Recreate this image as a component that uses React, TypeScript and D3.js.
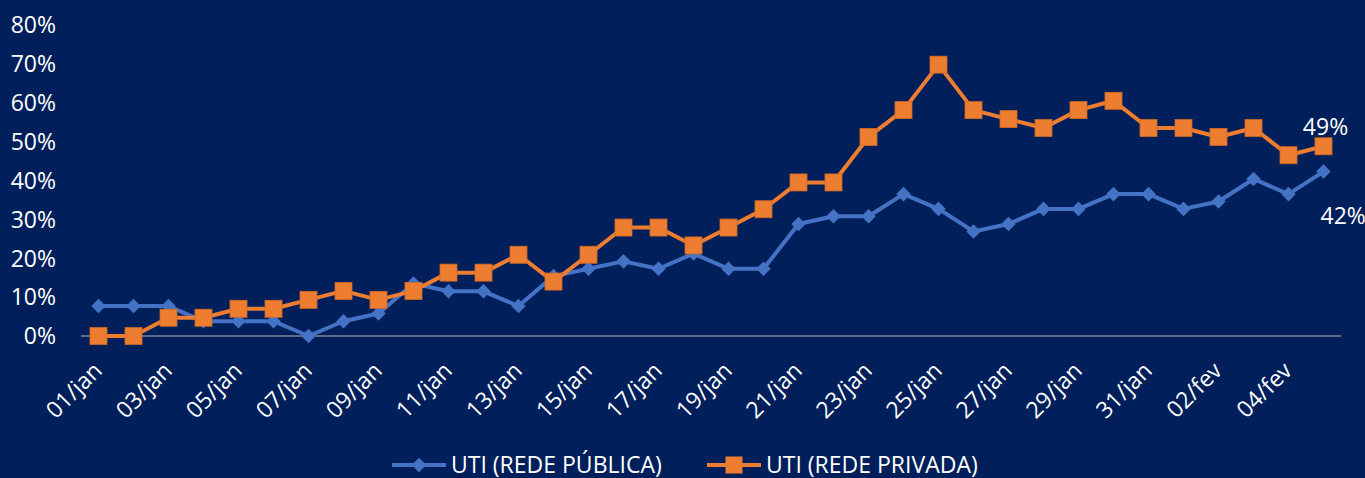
// App.tsx
import React, { Component } from "react";
import * as d3 from "d3";

const dates = [
	"01/jan", "02/jan", "03/jan", "04/jan", "05/jan", "06/jan", "07/jan", "08/jan", "09/jan",
	"10/jan", "11/jan", "12/jan", "13/jan", "14/jan", "15/jan", "16/jan", "17/jan", "18/jan",
	"19/jan", "20/jan", "21/jan", "22/jan", "23/jan", "24/jan", "25/jan", "26/jan", "27/jan",
	"28/jan", "29/jan", "30/jan", "31/jan", "01/fev", "02/fev", "03/fev", "04/fev", "05/fev",
];

// % de ocupação
const utiPublica = [
	7.7, 7.7, 7.7, 3.8, 3.8, 3.8, 0, 3.8, 5.8, 13.5, 11.5, 11.5, 7.7, 15.4, 17.3, 19.2, 17.3, 21.2,
	17.3, 17.3, 28.8, 30.8, 30.8, 36.5, 32.7, 26.9, 28.8, 32.7, 32.7, 36.5, 36.5, 32.7, 34.6, 40.4,
	36.5, 42.3,
];
const utiPrivada = [
	0, 0, 4.7, 4.7, 7, 7, 9.3, 11.6, 9.3, 11.6, 16.3, 16.3, 20.9, 14, 20.9, 27.9, 27.9, 23.3,
	27.9, 32.6, 39.5, 39.5, 51.2, 58.1, 69.8, 58.1, 55.8, 53.5, 58.1, 60.5, 53.5, 53.5, 51.2, 53.5,
	46.5, 48.8,
];

const yTicks = [0, 10, 20, 30, 40, 50, 60, 70, 80];
const seriesNames = ["UTI (REDE PÚBLICA)", "UTI (REDE PRIVADA)"];

const BLUE = "#4472C4";
const ORANGE = "#ED7D31";
const FONT = "'Open Sans', sans-serif";

class Chart extends Component {
	componentDidMount() {
		this.createChart();
	}

	createChart() {
		const svg = d3.select("#uti-canvas");

		const x = d3.scalePoint().domain(dates).range([81, 1341]).padding(0.5);
		const y = d3.scaleLinear().domain([0, 80]).range([336, 25]);

		// y labels (no axis line in the original)
		svg.append("g")
			.selectAll("text")
			.data(yTicks)
			.enter()
			.append("text")
			.attr("x", 56)
			.attr("y", (d) => y(d))
			.attr("dy", "0.36em")
			.attr("text-anchor", "end")
			.style("font-family", FONT)
			.style("font-size", "23px")
			.style("fill", "#fff")
			.text((d) => d + "%");

		// x axis line
		svg.append("line")
			.attr("x1", 81)
			.attr("x2", 1341)
			.attr("y1", y(0))
			.attr("y2", y(0))
			.attr("stroke", "#7f8696")
			.attr("stroke-width", 1.5);

		// x labels, every other day
		svg.append("g")
			.selectAll("text")
			.data(dates.filter((d, i) => i % 2 === 0))
			.enter()
			.append("text")
			.attr("transform", (d) => `translate(${x(d) + 5},${372}) rotate(-45)`)
			.attr("text-anchor", "end")
			.style("font-family", FONT)
			.style("font-size", "23px")
			.style("fill", "#fff")
			.text((d) => d);

		const line = d3
			.line()
			.x((d, i) => x(dates[i]))
			.y((d) => y(d));

		const diamond = d3.symbol().type(d3.symbolDiamond2).size(135);

		// rede pública
		svg.append("path")
			.datum(utiPublica)
			.attr("d", line)
			.attr("fill", "none")
			.attr("stroke", BLUE)
			.attr("stroke-width", 4)
			.attr("stroke-linejoin", "round");

		svg.append("g")
			.selectAll("path")
			.data(utiPublica)
			.enter()
			.append("path")
			.attr("d", diamond)
			.attr("transform", (d, i) => `translate(${x(dates[i])},${y(d)})`)
			.attr("fill", BLUE);

		// rede privada
		svg.append("path")
			.datum(utiPrivada)
			.attr("d", line)
			.attr("fill", "none")
			.attr("stroke", ORANGE)
			.attr("stroke-width", 4)
			.attr("stroke-linejoin", "round");

		svg.append("g")
			.selectAll("rect")
			.data(utiPrivada)
			.enter()
			.append("rect")
			.attr("x", (d, i) => x(dates[i]) - 8.5)
			.attr("y", (d) => y(d) - 8.5)
			.attr("width", 17)
			.attr("height", 17)
			.attr("fill", ORANGE)
			.attr("stroke", "#d06a25")
			.attr("stroke-width", 0.8);

		// last value labels
		const last = dates.length - 1;
		svg.append("text")
			.attr("x", x(dates[last]) + 2)
			.attr("y", y(utiPrivada[last]) - 20)
			.attr("dy", "0.36em")
			.attr("text-anchor", "middle")
			.style("font-family", FONT)
			.style("font-size", "23px")
			.style("fill", "#fff")
			.text(Math.round(utiPrivada[last]) + "%");

		svg.append("text")
			.attr("x", x(dates[last]) - 3)
			.attr("y", y(utiPublica[last]) + 44)
			.attr("dy", "0.36em")
			.attr("text-anchor", "start")
			.style("font-family", FONT)
			.style("font-size", "23px")
			.style("fill", "#fff")
			.text(Math.round(utiPublica[last]) + "%");

		// legend
		const legend = [
			{ name: seriesNames[0], color: BLUE, x: 392, shape: "diamond" },
			{ name: seriesNames[1], color: ORANGE, x: 707, shape: "square" },
		];
		const lg = svg.append("g").attr("transform", "translate(0,465)");
		legend.forEach((item) => {
			lg.append("line")
				.attr("x1", item.x)
				.attr("x2", item.x + 54)
				.attr("y1", 0)
				.attr("y2", 0)
				.attr("stroke", item.color)
				.attr("stroke-width", 4);
			if (item.shape === "diamond") {
				lg.append("path")
					.attr("d", diamond)
					.attr("transform", `translate(${item.x + 27},0)`)
					.attr("fill", item.color);
			} else {
				lg.append("rect")
					.attr("x", item.x + 27 - 8.5)
					.attr("y", -8.5)
					.attr("width", 17)
					.attr("height", 17)
					.attr("fill", item.color);
			}
			lg.append("text")
				.attr("x", item.x + 59)
				.attr("y", 0)
				.attr("dy", "0.36em")
				.style("font-family", FONT)
				.style("font-size", "23px")
				.style("fill", "#fff")
				.text(item.name);
		});
	}

	render() {
		return (
			<svg
				id="uti-canvas"
				width={1365}
				height={478}
				style={{ position: "absolute", left: 0, top: 0, background: "#001F5B", display: "block" }}
			/>
		);
	}
}

export default function App() {
	return <Chart />;
}
